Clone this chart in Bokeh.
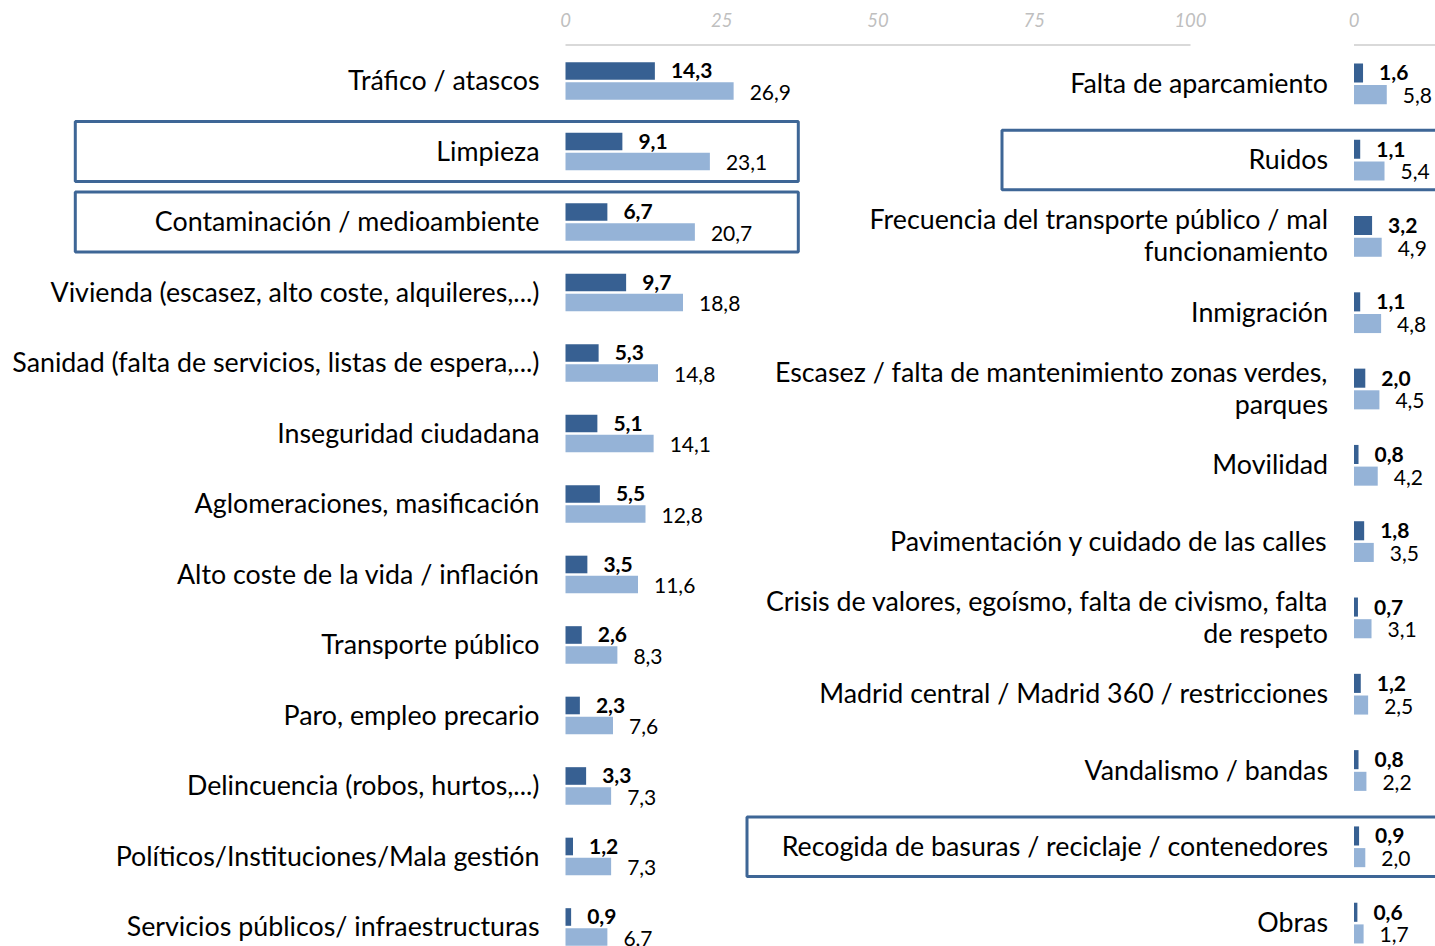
from bokeh.plotting import figure
from bokeh.models import Range1d, LinearAxis, FixedTicker, CustomJSTickFormatter, ColumnDataSource
from bokeh.core.properties import value
from bokeh.embed import file_html
from bokeh.resources import INLINE

# ---------------- data ----------------
left_cats = [
    "Tráfico / atascos",
    "Limpieza",
    "Contaminación / medioambiente",
    "Vivienda (escasez, alto coste, alquileres,...)",
    "Sanidad (falta de servicios, listas de espera,...)",
    "Inseguridad ciudadana",
    "Aglomeraciones, masificación",
    "Alto coste de la vida / inflación",
    "Transporte público",
    "Paro, empleo precario",
    "Delincuencia (robos, hurtos,...)",
    "Políticos/Instituciones/Mala gestión",
    "Servicios públicos/ infraestructuras",
]
left_a = [14.3, 9.1, 6.7, 9.7, 5.3, 5.1, 5.5, 3.5, 2.6, 2.3, 3.3, 1.2, 0.9]
left_b = [26.9, 23.1, 20.7, 18.8, 14.8, 14.1, 12.8, 11.6, 8.3, 7.6, 7.3, 7.3, 6.7]

right_cats = [
    "Falta de aparcamiento",
    "Ruidos",
    "Frecuencia del transporte público / mal\nfuncionamiento",
    "Inmigración",
    "Escasez / falta de mantenimiento zonas verdes,\nparques",
    "Movilidad",
    "Pavimentación y cuidado de las calles",
    "Crisis de valores, egoísmo, falta de civismo, falta\nde respeto",
    "Madrid central / Madrid 360 / restricciones",
    "Vandalismo / bandas",
    "Recogida de basuras / reciclaje / contenedores",
    "Obras",
]
right_a = [1.6, 1.1, 3.2, 1.1, 2.0, 0.8, 1.8, 0.7, 1.2, 0.8, 0.9, 0.6]
right_b = [5.8, 5.4, 4.9, 4.8, 4.5, 4.2, 3.5, 3.1, 2.5, 2.2, 2.0, 1.7]

left_ticks = [0, 25, 50, 75, 100]
left_highlight = ["Limpieza", "Contaminación / medioambiente"]
right_highlight = ["Ruidos", "Recogida de basuras / reciclaje / contenedores"]

# ---------------- layout constants (picture pixels) ----------------
W, H = 1435, 946
OFF = 0
FRAME_TOP = 43
FRAME_BOTTOM = OFF + H
FRAME_LEFT = OFF
FRAME_RIGHT = OFF + W

L_ZERO, L_PPU = 565.0, 6.25
R_ZERO, R_PPU = 1353.5, 5.65
L_ROW0, L_STEP = 80.5, 70.5
R_ROW0, R_STEP = 83.3, 76.3

DARK = "#376092"
LIGHT = "#95b3d7"
BOX = "#3e6696"
GRID = "#d9d9d9"
TICKC = "#bfbfbf"
FONT = "Lato"


def lx(px):
    return (px - L_ZERO) / L_PPU


def rx(px):
    return (px - R_ZERO) / R_PPU


def ly(py):
    return (py - L_ROW0) / L_STEP


def ry(py):
    return (py - R_ROW0) / R_STEP


p = figure(width=W, height=H, output_backend="svg", toolbar_location=None,
           x_range=Range1d(lx(FRAME_LEFT), lx(FRAME_RIGHT)),
           y_range=Range1d(ly(FRAME_BOTTOM), ly(FRAME_TOP)),
           x_axis_location=None, y_axis_location=None,
           min_border_left=0, min_border_right=0, min_border_bottom=0,
           min_border_top=FRAME_TOP - OFF)
p.extra_x_ranges = {"right": Range1d(rx(FRAME_LEFT), rx(FRAME_RIGHT))}
p.extra_y_ranges = {"right": Range1d(ry(FRAME_BOTTOM), ry(FRAME_TOP))}
p.outline_line_color = None
p.xgrid.visible = False
p.ygrid.visible = False
p.background_fill_color = "white"
p.border_fill_color = "white"

# ---------------- top axis ----------------
r0_left = lx(R_ZERO)
ax = LinearAxis(ticker=FixedTicker(ticks=left_ticks + [r0_left]))
ax.formatter = CustomJSTickFormatter(code="return tick > 110 ? '0' : tick.toFixed(0);")
ax.axis_line_color = None
ax.major_tick_line_color = None
ax.minor_tick_line_color = None
ax.major_tick_out = 0
ax.major_tick_in = 0
ax.major_label_standoff = 17
ax.major_label_text_font = FONT
ax.major_label_text_font_style = "italic"
ax.major_label_text_font_size = "18.5px"
ax.major_label_text_color = TICKC
p.add_layout(ax, "above")

yline_l = ly(44.5)
yline_r = ry(44.5)
p.segment(x0=[left_ticks[0]], x1=[left_ticks[-1]], y0=[yline_l], y1=[yline_l],
          line_color=GRID, line_width=2)
p.segment(x0=[0], x1=[rx(FRAME_RIGHT + 20)], y0=[yline_r], y1=[yline_r],
          line_color=GRID, line_width=2, x_range_name="right", y_range_name="right")

# ---------------- bars ----------------
OFFS = 0.142
BH = 0.25


def fmt(v):
    return f"{v:.1f}".replace(".", ",")


def panel(cats, a, b, xr, yr, label_size, val_size, val_off):
    n = len(cats)
    idx = list(range(n))
    ya = [i - OFFS for i in idx]
    yb = [i + OFFS for i in idx]
    kw = {}
    if xr:
        kw["x_range_name"] = xr
    if yr:
        kw["y_range_name"] = yr
    src_a = ColumnDataSource(dict(y=ya, v=a, lab=[fmt(v) for v in a]))
    src_b = ColumnDataSource(dict(y=yb, v=b, lab=[fmt(v) for v in b]))
    p.hbar(y="y", left=0, right="v", height=BH, source=src_a, fill_color=DARK,
           line_color=None, **kw)
    p.hbar(y="y", left=0, right="v", height=BH, source=src_b, fill_color=LIGHT,
           line_color=None, **kw)
    p.text(x="v", y="y", text="lab", source=src_a, x_offset=val_off, y_offset=0,
           text_font=value(FONT), text_font_style="bold", text_font_size=val_size,
           text_color="black", text_align="left", text_baseline="middle", **kw)
    p.text(x="v", y="y", text="lab", source=src_b, x_offset=val_off, y_offset=1,
           text_font=value(FONT), text_font_size=val_size,
           text_color="black", text_align="left", text_baseline="middle", **kw)
    src_c = ColumnDataSource(dict(x=[0] * n, y=idx, t=cats))
    p.text(x="x", y="y", text="t", source=src_c, x_offset=-26, y_offset=-1,
           text_font=value(FONT), text_font_size=label_size, text_color="black",
           text_align="right", text_baseline="middle", text_line_height=1.0, **kw)


panel(left_cats, left_a, left_b, None, None, "26.8px", "21px", 16)
panel(right_cats, right_a, right_b, "right", "right", "26.8px", "21px", 16)

# ---------------- highlight boxes ----------------
lrows = [left_cats.index(c) for c in left_highlight]
p.quad(left=[lx(74.8)] * len(lrows), right=[lx(797.8)] * len(lrows),
       top=[i - 0.425 for i in lrows], bottom=[i + 0.425 for i in lrows],
       fill_color=None, line_color=BOX, line_width=3)

rrows = [right_cats.index(c) for c in right_highlight]
p.quad(left=[rx(1001.5), rx(746.5)], right=[rx(FRAME_RIGHT + 20)] * len(rrows),
       top=[j - 0.39 for j in rrows], bottom=[j + 0.39 for j in rrows],
       fill_color=None, line_color=BOX, line_width=3,
       x_range_name="right", y_range_name="right")

open("out.html", "w").write(file_html(p, INLINE))
